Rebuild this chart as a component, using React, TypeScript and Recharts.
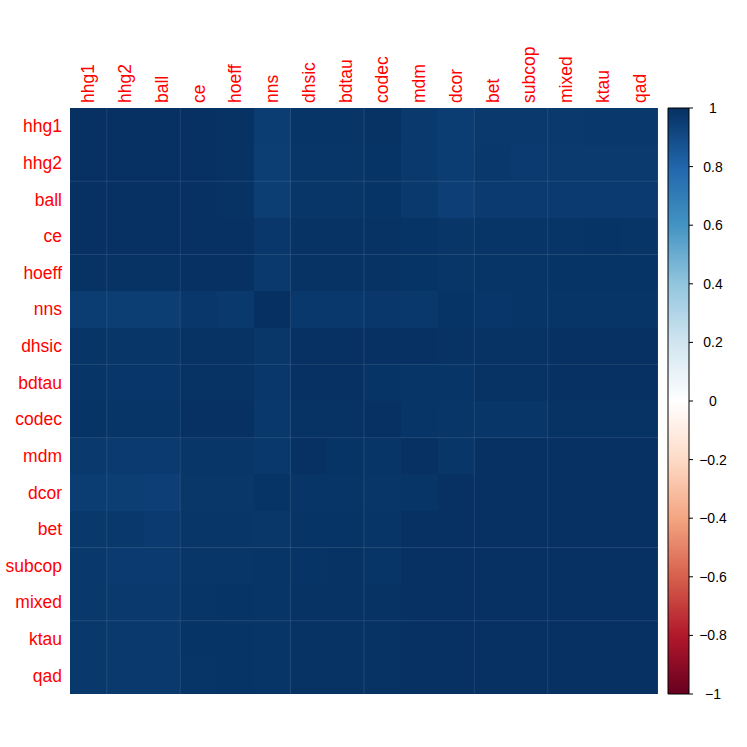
import React from 'react';
import { BarChart, Bar, XAxis, YAxis, Cell, ReferenceLine } from 'recharts';

// ---------- data ----------
const variables = ['hhg1', 'hhg2', 'ball', 'ce', 'hoeff', 'nns', 'dhsic', 'bdtau', 'codec', 'mdm', 'dcor', 'bet', 'subcop', 'mixed', 'ktau', 'qad'];

const hhg1 = [0.996, 0.996, 0.996, 0.996, 0.992, 0.956, 0.983, 0.983, 0.992, 0.966, 0.956, 0.966, 0.966, 0.968, 0.97, 0.97];
const hhg2 = [0.996, 0.996, 0.996, 0.996, 0.992, 0.953, 0.979, 0.979, 0.987, 0.966, 0.956, 0.97, 0.962, 0.964, 0.964, 0.964];
const ball = [0.996, 0.996, 0.996, 0.996, 0.992, 0.949, 0.979, 0.979, 0.987, 0.966, 0.945, 0.962, 0.962, 0.963, 0.963, 0.963];
const ce = [0.996, 0.996, 0.996, 0.996, 0.996, 0.973, 0.992, 0.992, 0.992, 0.987, 0.979, 0.983, 0.983, 0.983, 0.987, 0.981];
const hoeff = [0.992, 0.992, 0.992, 0.996, 0.996, 0.968, 0.992, 0.992, 0.992, 0.987, 0.979, 0.983, 0.983, 0.987, 0.987, 0.985];
const nns = [0.956, 0.949, 0.949, 0.973, 0.968, 1, 0.97, 0.97, 0.973, 0.97, 0.987, 0.976, 0.983, 0.981, 0.981, 0.981];
const dhsic = [0.983, 0.979, 0.979, 0.992, 0.992, 0.975, 0.996, 0.996, 0.996, 0.996, 0.992, 0.992, 0.992, 0.996, 0.996, 0.996];
const bdtau = [0.983, 0.976, 0.976, 0.992, 0.992, 0.973, 0.996, 0.996, 0.987, 0.983, 0.983, 0.992, 0.992, 0.996, 0.996, 0.996];
const codec = [0.987, 0.983, 0.983, 0.996, 0.996, 0.97, 0.992, 0.992, 0.996, 0.983, 0.979, 0.979, 0.979, 0.992, 0.992, 0.992];
const mdm = [0.966, 0.962, 0.962, 0.979, 0.979, 0.97, 0.996, 0.987, 0.983, 0.996, 0.979, 0.996, 0.996, 0.996, 0.996, 0.996];
const dcor = [0.956, 0.953, 0.945, 0.975, 0.975, 0.987, 0.983, 0.983, 0.979, 0.981, 0.996, 0.996, 0.996, 0.996, 0.996, 0.996];
const bet = [0.97, 0.97, 0.962, 0.979, 0.979, 0.975, 0.987, 0.987, 0.983, 0.996, 0.996, 0.996, 0.996, 0.996, 0.996, 0.996];
const subcop = [0.97, 0.962, 0.962, 0.979, 0.979, 0.983, 0.987, 0.992, 0.983, 0.996, 0.996, 0.996, 0.996, 0.996, 0.996, 0.996];
const mixed = [0.97, 0.966, 0.966, 0.983, 0.987, 0.983, 0.992, 0.992, 0.992, 0.996, 0.996, 0.996, 0.996, 0.996, 0.996, 0.996];
const ktau = [0.97, 0.966, 0.966, 0.987, 0.987, 0.983, 0.992, 0.992, 0.992, 0.996, 0.996, 0.996, 0.996, 0.996, 0.996, 0.996];
const qad = [0.97, 0.966, 0.966, 0.981, 0.987, 0.983, 0.992, 0.992, 0.992, 0.996, 0.996, 0.996, 0.996, 0.996, 0.996, 0.996];

const matrixRows = [hhg1, hhg2, ball, ce, hoeff, nns, dhsic, bdtau, codec, mdm, dcor, bet, subcop, mixed, ktau, qad];

const legendTicks = [1, 0.8, 0.6, 0.4, 0.2, 0, -0.2, -0.4, -0.6, -0.8, -1];
const paletteStops = ['#67001F', '#B2182B', '#D6604D', '#F4A582', '#FDDBC7', '#FFFFFF', '#D1E5F0', '#92C5DE', '#4393C3', '#2166AC', '#053061'];
const verticalSeams = [1, 3, 6, 8, 11, 13, 16];
const horizontalSeams = [2, 4, 7, 9, 12, 14];

// ---------- helpers ----------
const hexToRgb = (h: string) => [parseInt(h.slice(1, 3), 16), parseInt(h.slice(3, 5), 16), parseInt(h.slice(5, 7), 16)];
function corrColor(v: number): string {
  const t = ((v + 1) / 2) * (paletteStops.length - 1);
  const i = Math.max(0, Math.min(Math.floor(t), paletteStops.length - 2));
  const f = t - i;
  const a = hexToRgb(paletteStops[i]);
  const b = hexToRgb(paletteStops[i + 1]);
  const c = a.map((x, k) => Math.round(x + (b[k] - x) * f));
  return `rgb(${c[0]},${c[1]},${c[2]})`;
}

const FONT = '"Liberation Sans", Arial, Helvetica, sans-serif';

const chartData = variables.map((name, c) => {
  const o: any = { name, pos: c + 0.5 };
  matrixRows.forEach((_, r) => {
    o['r' + r] = 1;
  });
  return o;
});

const legendData = [{ name: 'legend', range: [-1, 1] }];

const ColTick = (props: any) => {
  const { x, y, payload } = props;
  return (
    <text
      x={x}
      y={y}
      transform={`rotate(-90, ${x}, ${y})`}
      textAnchor="start"
      dominantBaseline="central"
      fill="#FF0000"
      fontSize={17.5}
      fontFamily={FONT}
    >
      {payload.value}
    </text>
  );
};

const RowTick = (props: any) => {
  const { x, y, payload } = props;
  const idx = Math.round(payload.value - 0.5);
  return (
    <text x={x} y={y} textAnchor="end" dominantBaseline="central" fill="#FF0000" fontSize={17.5} fontFamily={FONT}>
      {variables[idx]}
    </text>
  );
};

const LegendTick = (props: any) => {
  const { x, y, payload } = props;
  const v = payload.value as number;
  const label = v < 0 ? '\u2212' + String(Math.abs(v)) : String(v);
  return (
    <text x={x} y={y} textAnchor="middle" dominantBaseline="central" fill="#000" fontSize={14} fontFamily={FONT}>
      {label}
    </text>
  );
};

export default function App() {
  return (
    <div style={{ position: 'absolute', left: 0, top: 0, width: 747, height: 747, background: '#fff' }}>
      <style>{`.heat .recharts-rectangle { shape-rendering: crispEdges; }`}</style>
      <svg width={0} height={0} style={{ position: 'absolute' }}>
        <defs>
          <linearGradient id="corrGradient" x1="0" y1="0" x2="0" y2="1">
            {paletteStops
              .slice()
              .reverse()
              .map((c, i) => (
                <stop key={i} offset={`${(i / (paletteStops.length - 1)) * 100}%`} stopColor={c} />
              ))}
          </linearGradient>
        </defs>
      </svg>

      <div className="heat" style={{ position: 'absolute', left: 0, top: 0 }}>
        <BarChart
          width={747}
          height={747}
          data={chartData}
          margin={{ top: 8, right: 89, bottom: 53, left: 8 }}
          barCategoryGap={0}
          barGap={0}
        >
          <XAxis
            dataKey="name"
            type="category"
            orientation="top"
            height={100}
            tickLine={false}
            axisLine={false}
            tickSize={0}
            tickMargin={5}
            interval={0}
            tick={<ColTick />}
          />
          <XAxis xAxisId="num" dataKey="pos" type="number" domain={[0, 16]} hide allowDataOverflow />
          <YAxis
            type="number"
            domain={[0, 16]}
            reversed
            width={62}
            ticks={variables.map((_, i) => i + 0.5)}
            tickLine={false}
            axisLine={false}
            tickSize={0}
            tickMargin={8}
            interval={0}
            tick={<RowTick />}
            allowDataOverflow
          />
          {matrixRows.map((row, r) => (
            <Bar key={r} dataKey={'r' + r} stackId="m" isAnimationActive={false}>
              {row.map((v, c) => (
                <Cell key={c} fill={corrColor(v)} />
              ))}
            </Bar>
          ))}
          {verticalSeams.map((b) => (
            <ReferenceLine key={'v' + b} xAxisId="num" x={b} stroke="#ffffff" strokeOpacity={0.1} strokeWidth={1} />
          ))}
          {horizontalSeams.map((b) => (
            <ReferenceLine key={'h' + b} xAxisId="num" y={b} stroke="#ffffff" strokeOpacity={0.1} strokeWidth={1} />
          ))}
        </BarChart>
      </div>

      <div style={{ position: 'absolute', left: 0, top: 0 }}>
        <BarChart
          width={747}
          height={747}
          data={legendData}
          margin={{ top: 108, right: 8, bottom: 53, left: 668 }}
          barCategoryGap={0}
        >
          <XAxis dataKey="name" type="category" hide />
          <YAxis
            orientation="right"
            type="number"
            domain={[-1, 1]}
            ticks={legendTicks}
            interval={0}
            width={50}
            axisLine={false}
            tickLine={{ stroke: '#000', strokeWidth: 1 }}
            tickSize={4}
            tickMargin={20}
            tick={<LegendTick />}
          />
          <Bar dataKey="range" fill="url(#corrGradient)" stroke="#000" strokeWidth={1} isAnimationActive={false} />
        </BarChart>
      </div>
    </div>
  );
}
